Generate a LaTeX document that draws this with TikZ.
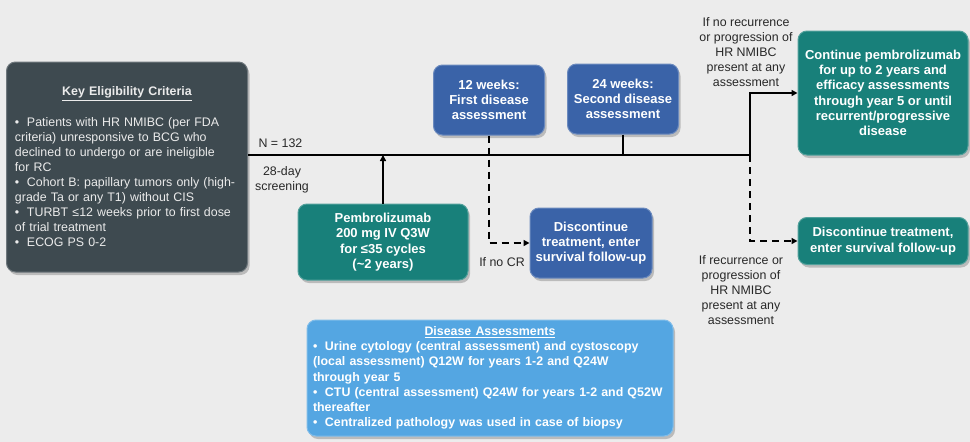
\documentclass[tikz,border=0pt]{standalone}
\usepackage{fontspec}
\setmainfont{Liberation Sans}
\usetikzlibrary{arrows.meta,positioning,shadows}
\definecolor{bggray}{RGB}{236,236,236}
\definecolor{slate}{RGB}{62,74,80}
\definecolor{tealbox}{RGB}{24,128,122}
\definecolor{bluebox}{RGB}{58,99,168}
\definecolor{skybox}{RGB}{84,166,226}
\definecolor{labgray}{RGB}{40,40,40}
\newcommand\bitem{\par\hangindent=12pt\hangafter=1\noindent\makebox[12pt][l]{\textbullet}}
\tikzset{
  box/.style={rounded corners=9pt,text=white,align=center,inner sep=3pt,line width=1pt,
    font=\bfseries\fontsize{13}{15.3}\selectfont,
    drop shadow={opacity=.45,shadow xshift=2pt,shadow yshift=-3pt}},
  eligbox/.style={box,fill=slate,draw=slate!75!white,align=left,text width=224pt,
    text=white!92!black,font=\fontsize{12.4}{15}\selectfont},
  treatbox/.style={box,fill=tealbox,draw=tealbox!75!white},
  weekbox/.style={box,fill=bluebox,draw=bluebox!75!white},
  assessbox/.style={box,fill=skybox,draw=skybox!75!white,align=left,text width=354pt,
    font=\bfseries\fontsize{12.4}{15.2}\selectfont},
  lab/.style={text=labgray,align=center,font=\fontsize{12.4}{15}\selectfont},
  flow/.style={line width=1.6pt,black},
  flowarr/.style={flow,-{Triangle[length=6pt,width=6pt]}},
  noflow/.style={flowarr,dash pattern=on 7pt off 5pt},
}

\begin{document}
\begin{tikzpicture}[x=1pt,y=-1pt]
  \path[use as bounding box,fill=bggray] (0,0) rectangle (970,442);

  % eligibility
  \node[eligbox,minimum width=241pt,minimum height=210pt] (elig) at (127,167) {%
    {\centering\textbf{\underline{Key Eligibility Criteria}}\par}\vspace{16pt}
    \bitem Patients with HR NMIBC (per FDA\\criteria) unresponsive to BCG who\\declined to undergo or are ineligible\\for RC
    \bitem Cohort B: papillary tumors only (high-\\grade Ta or any T1) without CIS
    \bitem TURBT ≤12 weeks prior to first dose\\of trial treatment
    \bitem ECOG PS 0-2\par};

  % treatment and assessments
  \node[treatbox,minimum width=170pt,minimum height=76pt] (pem) at (383,242)
    {Pembrolizumab\\200 mg IV Q3W\\for ≤35 cycles\\(\textasciitilde2 years)};
  \node[weekbox,minimum width=111pt,minimum height=70pt] (wk12) at (489,100)
    {12 weeks:\\First disease\\assessment};
  \node[weekbox,minimum width=111pt,minimum height=70pt] (wk24) at (623,99)
    {24 weeks:\\Second disease\\assessment};
  \node[weekbox,minimum width=122pt,minimum height=70pt] (stop1) at (591,243)
    {Discontinue\\treatment, enter\\survival follow-up};
  \node[treatbox,minimum width=170pt,minimum height=124pt] (cont) at (883,93)
    {Continue pembrolizumab\\for up to 2 years and\\efficacy assessments\\through year 5 or until\\recurrent/progressive\\disease};
  \node[treatbox,minimum width=170pt,minimum height=47pt] (stop2) at (883,241)
    {Discontinue treatment,\\enter survival follow-up};

  % disease assessments
  \node[assessbox,minimum width=366pt,minimum height=116pt] (assess) at (490,378) {%
    {\centering\underline{Disease Assessments}\par}
    \bitem Urine cytology (central assessment) and cystoscopy\\(local assessment) Q12W for years 1-2 and Q24W\\through year 5
    \bitem CTU (central assessment) Q24W for years 1-2 and Q52W\\thereafter
    \bitem Centralized pathology was used in case of biopsy\par};

  % labels
  \node[lab,anchor=west] (n) at (255,143) {N = 132};
  \node[lab] (screen) at (282,180) {28-day\\screening};
  \node[lab] (nocr) at (502,262) {If no CR};
  \node[lab] (good) at (746,52)
    {If no recurrence\\or progression of\\HR NMIBC\\present at any\\assessment};
  \node[lab] (bad) at (741,290)
    {If recurrence or\\progression of\\HR NMIBC\\present at any\\assessment};

  % timeline
  \coordinate (split) at (750,155);
  \coordinate (mainL) at (elig.east |- split);
  \draw[flow] (mainL) -- (split);
  \draw[flowarr] (pem.north) -- (pem.north |- split);
  \draw[flow] (wk24.south) -- (wk24.south |- split);
  \draw[noflow] (wk12.south) |- (stop1.west);
  \draw[flowarr] (split) |- (cont.west);
  \draw[noflow] (split) |- (stop2.west);
\end{tikzpicture}
\end{document}
